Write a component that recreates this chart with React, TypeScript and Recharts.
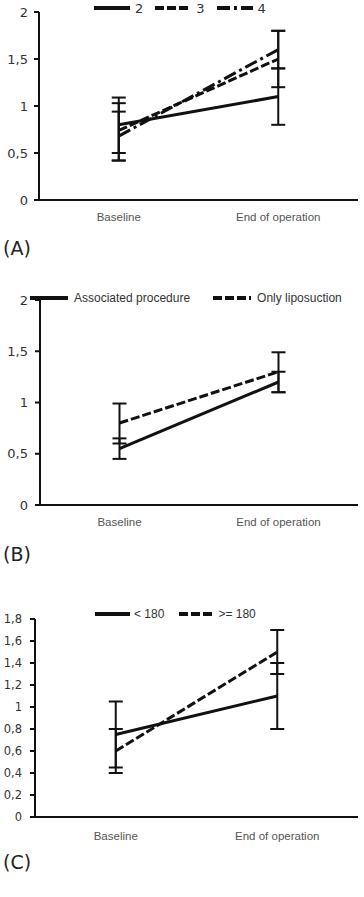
import { ErrorBar, Line, LineChart, XAxis, YAxis } from "recharts";

const categories = ["Baseline", "End of operation"];

// (A) groups 2, 3, 4
const groupA2 = [0.8, 1.1];
const groupA3 = [0.74, 1.5];
const groupA4 = [0.68, 1.6];
const errA2 = [[0.3, 0.29], [0.3, 0.3]];
const errA3 = [[0.32, 0.29], [0.3, 0.3]];
const errA4 = [[0.26, 0.26], [0.2, 0.2]];
const ticksA = [0, 0.5, 1, 1.5, 2];

// (B) associated procedure vs only liposuction
const associated = [0.55, 1.2];
const onlyLipo = [0.8, 1.3];
const errAssociated = [[0.1, 0.1], [0.1, 0.1]];
const errOnlyLipo = [[0.2, 0.19], [0.2, 0.19]];
const ticksB = [0, 0.5, 1, 1.5, 2];

// (C) < 180 vs >= 180
const under180 = [0.75, 1.1];
const over180 = [0.6, 1.5];
const errUnder180 = [[0.3, 0.3], [0.3, 0.3]];
const errOver180 = [[0.2, 0.2], [0.2, 0.2]];
const ticksC = [0, 0.2, 0.4, 0.6, 0.8, 1, 1.2, 1.4, 1.6, 1.8];

const dashes: Record<string, string | undefined> = {
  solid: undefined,
  dash: "9 3",
  dashdot: "13 4 3 4",
};

type Series = { key: string; label: string; values: number[]; errors: number[][]; style: string };

const seriesA: Series[] = [
  { key: "a2", label: "2", values: groupA2, errors: errA2, style: "solid" },
  { key: "a3", label: "3", values: groupA3, errors: errA3, style: "dash" },
  { key: "a4", label: "4", values: groupA4, errors: errA4, style: "dashdot" },
];
const seriesB: Series[] = [
  { key: "assoc", label: "Associated procedure", values: associated, errors: errAssociated, style: "solid" },
  { key: "lipo", label: "Only liposuction", values: onlyLipo, errors: errOnlyLipo, style: "dash" },
];
const seriesC: Series[] = [
  { key: "lt", label: "< 180", values: under180, errors: errUnder180, style: "solid" },
  { key: "ge", label: ">= 180", values: over180, errors: errOver180, style: "dash" },
];

const buildRows = (series: Series[]) =>
  categories.map((name, i) => {
    const row: Record<string, unknown> = { name };
    series.forEach((s) => {
      row[s.key] = s.values[i];
      row[s.key + "Err"] = s.errors[i];
    });
    return row;
  });

const comma = (v: number) => String(v).replace(".", ",");
const ink = "#111";

function Panel({
  series,
  ticks,
  max,
  top,
  height,
  marginTop,
  axisWidth,
  tickFont,
  tickGap,
  labelGap,
}: {
  series: Series[];
  ticks: number[];
  max: number;
  top: number;
  height: number;
  marginTop: number;
  axisWidth: number;
  tickFont: number;
  tickGap: number;
  labelGap: number;
}) {
  return (
    <div style={{ position: "absolute", left: 0, top }}>
      <LineChart
        width={364}
        height={height}
        data={buildRows(series)}
        margin={{ top: marginTop, right: 6, bottom: 0, left: 0 }}
      >
        <XAxis
          dataKey="name"
          scale="band"
          height={30}
          interval={0}
          tickLine={false}
          tickMargin={labelGap}
          axisLine={{ stroke: ink, strokeWidth: 2 }}
          tick={{ fill: "#555", fontSize: 11.5, fontFamily: "Liberation Sans, Arial, sans-serif" }}
        />
        <YAxis
          width={axisWidth}
          domain={[0, max]}
          ticks={ticks}
          interval={0}
          tickFormatter={comma}
          tickSize={5}
          tickMargin={tickGap}
          axisLine={{ stroke: ink, strokeWidth: 2 }}
          tickLine={{ stroke: ink, strokeWidth: 2 }}
          tick={{ fill: "#333", fontSize: tickFont, fontFamily: "DejaVu Sans, sans-serif" }}
        />
        {series.map((s) => (
          <Line
            key={s.key}
            dataKey={s.key}
            type="linear"
            stroke={ink}
            strokeWidth={3}
            strokeDasharray={dashes[s.style]}
            dot={false}
            activeDot={false}
            isAnimationActive={false}
          >
            <ErrorBar dataKey={s.key + "Err"} direction="y" width={7} stroke={ink} strokeWidth={2} isAnimationActive={false} />
          </Line>
        ))}
      </LineChart>
    </div>
  );
}

function Key({
  series,
  left,
  top,
  lineW,
  textGap,
  itemGap,
  font,
  fontFamily,
}: {
  series: Series[];
  left: number;
  top: number;
  lineW: number;
  textGap: number;
  itemGap: number;
  font: number;
  fontFamily: string;
}) {
  return (
    <div
      style={{
        position: "absolute",
        left,
        top: top - 8,
        height: 16,
        display: "flex",
        alignItems: "center",
        gap: itemGap,
        fontFamily,
        fontSize: font,
        color: "#333",
        whiteSpace: "nowrap",
      }}
    >
      {series.map((s) => (
        <div key={s.key} style={{ display: "flex", alignItems: "center", gap: textGap }}>
          <svg width={lineW} height={6}>
            <line x1={0} y1={3} x2={lineW} y2={3} stroke={ink} strokeWidth={4} strokeDasharray={dashes[s.style]} />
          </svg>
          <span>{s.label}</span>
        </div>
      ))}
    </div>
  );
}

const letterStyle = {
  position: "absolute" as const,
  left: 3,
  fontFamily: "DejaVu Sans, sans-serif",
  fontSize: 19,
  lineHeight: "20px",
  color: "#222",
};

export default function App() {
  return (
    <div style={{ position: "absolute", left: 0, top: 0, width: 364, height: 897, background: "#fff" }}>
      <Panel series={seriesA} ticks={ticksA} max={2} top={0} height={230} marginTop={12} axisWidth={39} tickFont={13} tickGap={6} labelGap={7} />
      <Key series={seriesA} left={94} top={8} lineW={36} textGap={5} itemGap={12} font={13} fontFamily="DejaVu Sans, sans-serif" />
      <div style={{ ...letterStyle, top: 238 }}>(A)</div>

      <Panel series={seriesB} ticks={ticksB} max={2} top={280} height={255} marginTop={20} axisWidth={40} tickFont={13} tickGap={7} labelGap={7} />
      <Key series={seriesB} left={30} top={298} lineW={38} textGap={6} itemGap={23} font={12} fontFamily="Liberation Sans, Arial, sans-serif" />
      <div style={{ ...letterStyle, top: 544 }}>(B)</div>

      <Panel series={seriesC} ticks={ticksC} max={1.8} top={600} height={247} marginTop={19} axisWidth={35} tickFont={11.5} tickGap={8} labelGap={9} />
      <Key series={seriesC} left={95} top={614} lineW={35} textGap={4} itemGap={15} font={12} fontFamily="Liberation Sans, Arial, sans-serif" />
      <div style={{ ...letterStyle, top: 852 }}>(C)</div>
    </div>
  );
}
